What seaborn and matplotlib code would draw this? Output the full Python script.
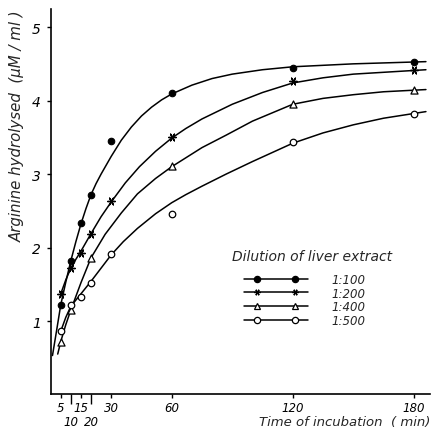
import numpy as np
import pandas as pd
import matplotlib
matplotlib.use("Agg")
import matplotlib.pyplot as plt
import seaborn as sns
from matplotlib.lines import Line2D
from matplotlib.legend_handler import HandlerLine2D, HandlerTuple

# ---------------- data ----------------
dilutions = ["1:100", "1:200", "1:400", "1:500"]
legend_title = "Dilution of liver extract"

# measured points
t_100 = [5, 10, 15, 20, 30, 60, 120, 180]
v_100 = [1.22, 1.81, 2.34, 2.72, 3.45, 4.10, 4.45, 4.52]
t_200 = [5, 10, 15, 20, 30, 60, 120, 180]
v_200 = [1.37, 1.72, 1.93, 2.19, 2.63, 3.50, 4.26, 4.41]
t_400 = [5, 10, 20, 60, 120, 180]
v_400 = [0.72, 1.15, 1.86, 3.11, 3.96, 4.14]
t_500 = [5, 10, 15, 20, 30, 60, 120, 180]
v_500 = [0.86, 1.22, 1.32, 1.52, 1.91, 2.45, 3.43, 3.82]

# hand-drawn smooth curves (vertices)
ct_100 = [0.9, 3, 5, 7.5, 10, 12.5, 15, 17.5, 20, 22.5, 25, 30, 35, 40, 45, 50, 55, 60,
          70, 80, 90, 105, 120, 150, 186]
cv_100 = [0.53, 0.88, 1.22, 1.53, 1.82, 2.08, 2.32, 2.53, 2.72, 2.87, 3.00, 3.24, 3.46,
          3.64, 3.79, 3.91, 4.01, 4.09, 4.21, 4.30, 4.36, 4.42, 4.46, 4.50, 4.53]
ct_200 = [5, 7.5, 10, 12.5, 15, 20, 25, 30, 37, 44, 52, 60, 67, 75, 90, 105, 120, 135,
          150, 186]
cv_200 = [1.37, 1.56, 1.72, 1.84, 1.95, 2.19, 2.42, 2.62, 2.88, 3.10, 3.31, 3.49, 3.62,
          3.75, 3.95, 4.11, 4.24, 4.31, 4.36, 4.42]
ct_400 = [3.5, 5, 7.5, 10, 15, 20, 27, 35, 43, 52, 60, 75, 87, 100, 120, 135, 150, 165, 186]
cv_400 = [0.55, 0.72, 0.95, 1.15, 1.52, 1.86, 2.18, 2.47, 2.73, 2.94, 3.10, 3.36, 3.53,
          3.72, 3.95, 4.03, 4.08, 4.12, 4.15]
ct_500 = [5, 7.5, 10, 15, 20, 25, 30, 36, 43, 52, 60, 67, 75, 87, 100, 120, 135, 150,
          165, 186]
cv_500 = [0.86, 1.05, 1.20, 1.37, 1.54, 1.72, 1.90, 2.08, 2.26, 2.46, 2.61, 2.72, 2.835,
          3.00, 3.17, 3.42, 3.56, 3.67, 3.76, 3.85]

major_ticks = [5, 15, 30, 60, 120, 180]
minor_ticks = [10, 20]
y_ticks = [1, 2, 3, 4, 5]

# ---------------- styling ----------------
sns.set_theme(style="ticks")
plt.rcParams["font.family"] = ["DejaVu Sans"]
plt.rcParams["font.style"] = "italic"

fig = plt.figure(figsize=(4.33, 4.31), dpi=100)
ax = fig.add_axes([0.117, 0.0824, 0.876, 0.895])

pts = [(t_100, v_100), (t_200, v_200), (t_400, v_400), (t_500, v_500)]
curves = [(ct_100, cv_100), (ct_200, cv_200), (ct_400, cv_400), (ct_500, cv_500)]
marker_specs = [
    dict(marker="o", s=22, facecolor="black", edgecolor="black", linewidth=0.8),
    dict(marker=(6, 2, 90), s=30, facecolor="black", edgecolor="black", linewidth=1.0),
    dict(marker="^", s=26, facecolor="white", edgecolor="black", linewidth=0.9),
    dict(marker="o", s=22, facecolor="white", edgecolor="black", linewidth=0.9),
]

for (ct, cv) in curves:
    sns.lineplot(x=ct, y=cv, color="black", linewidth=1.1, ax=ax, sort=False,
                 estimator=None, zorder=2)

for (t, v), spec in zip(pts, marker_specs):
    sns.scatterplot(x=t, y=v, ax=ax, zorder=3, **spec)

ax.set_xlim(0, 188)
ax.set_ylim(0, 5.25)
sns.despine(ax=ax)
for sp in ("left", "bottom"):
    ax.spines[sp].set_linewidth(1.2)
    ax.spines[sp].set_color("black")

ax.set_xticks(major_ticks, labels=[str(x) for x in major_ticks])
ax.set_xticks(minor_ticks, labels=[str(x) for x in minor_ticks], minor=True)
ax.set_yticks(y_ticks, labels=[str(y) for y in y_ticks])
ax.tick_params(axis="x", which="major", length=3, width=1, pad=1.5, labelsize=8.5, colors="black")
ax.tick_params(axis="x", which="minor", length=7.5, width=1, pad=7.5, labelsize=8.5, colors="black")
ax.tick_params(axis="y", which="major", length=3, width=1, pad=4, labelsize=10, colors="black")

ax.text(1.0, -0.052, "Time of incubation  ( min)", transform=ax.transAxes,
        ha="right", va="top", fontsize=9.5, style="italic")
ax.text(-0.089, 0.698, "Arginine hydrolysed  (μM / ml )", transform=ax.transAxes,
        ha="center", va="center", rotation=90, fontsize=10.8, style="italic")

# legend
ax.text(0.689, 0.360, legend_title, transform=ax.transAxes, ha="center",
        va="center", fontsize=10, style="italic")
handles = []
hmap = {}
for spec in marker_specs:
    ln = Line2D([], [], color="black", linewidth=1.1)
    mk = Line2D([], [], linestyle="none", marker=spec["marker"],
                markersize=4.5, markerfacecolor=spec["facecolor"],
                markeredgecolor="black", markeredgewidth=0.9)
    hmap[ln] = HandlerLine2D(numpoints=1)
    hmap[mk] = HandlerLine2D(numpoints=2, marker_pad=1.1)
    handles.append((ln, mk))
hmap[tuple] = HandlerTuple(ndivide=1)
leg = ax.legend(handles, dilutions, handler_map=hmap, loc="upper left",
                bbox_to_anchor=(0.51, 0.315), frameon=False, fontsize=8.5,
                handlelength=5.4, handletextpad=2.0, labelspacing=0.05,
                borderpad=0, borderaxespad=0)

fig.savefig("out.png", dpi=100, facecolor="white")
